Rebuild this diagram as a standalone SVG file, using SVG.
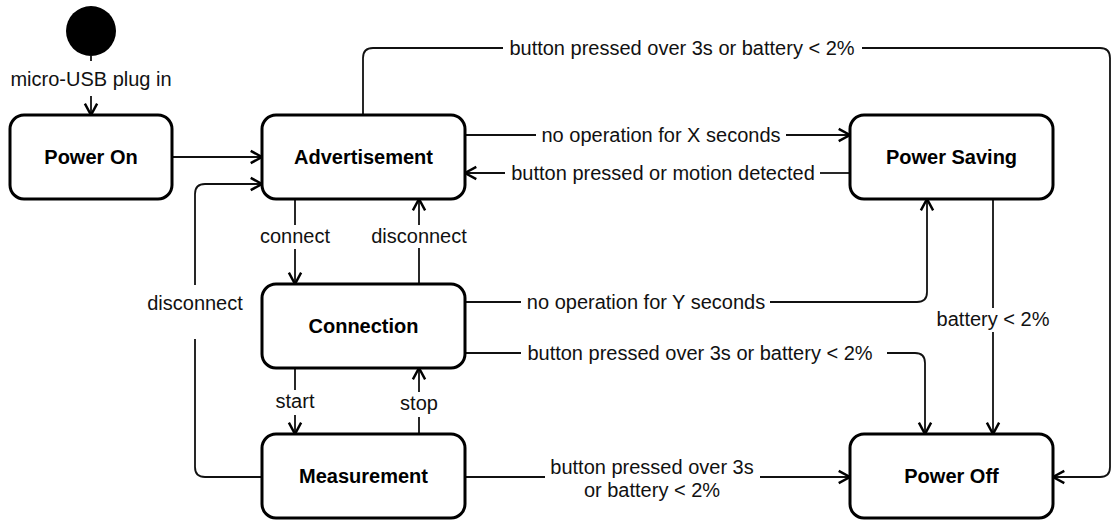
<svg xmlns="http://www.w3.org/2000/svg" width="1113" height="521" viewBox="0 0 1113 521">
  <style>
    .node { fill: #ffffff; stroke: #000000; stroke-width: 3; }
    .title { font-family: "Liberation Sans", Arial, sans-serif; font-size: 20px; font-weight: bold; fill: #000000; text-anchor: middle; }
    .label { font-family: "Liberation Sans", Arial, sans-serif; font-size: 20px; fill: #111111; text-anchor: middle; }
    .edge { fill: none; stroke: #111111; stroke-width: 1.8; }
    .arrow { marker-end: url(#open); }
  </style>
  <defs>
    <marker id="open" markerUnits="userSpaceOnUse" markerWidth="16" markerHeight="16" viewBox="-2 -2 16 17" refX="12" refY="6.5" orient="auto">
      <path d="M0,0 L12,6.5 L0,13" fill="none" stroke="#000000" stroke-width="2.6"/>
    </marker>
  </defs>

  <!-- transitions -->
  <g id="connectors">
    <path class="edge" d="M91,56 V61"/>
    <path class="edge arrow" d="M91,96 V115"/>
    <path class="edge arrow" d="M172,157 H262"/>
    <path class="edge" d="M363,115 V58 Q363,48 373,48 H503"/>
    <path class="edge arrow" d="M862,48 H1100 Q1110,48 1110,58 V467 Q1110,477 1100,477 H1053"/>
    <path class="edge" d="M465,135 H536"/>
    <path class="edge arrow" d="M786,135 H850"/>
    <path class="edge" d="M850,173 H820"/>
    <path class="edge arrow" d="M505,173 H465"/>
    <path class="edge" d="M295,199 V225"/>
    <path class="edge arrow" d="M295,249 V284"/>
    <path class="edge" d="M419,284 V248"/>
    <path class="edge arrow" d="M419,225 V199"/>
    <path class="edge" d="M262,477 H205 Q195,477 195,467 V339"/>
    <path class="edge arrow" d="M195,285 V194 Q195,184 205,184 H262"/>
    <path class="edge" d="M465,302 H521"/>
    <path class="edge arrow" d="M770,302 H917 Q927,302 927,292 V199"/>
    <path class="edge" d="M465,353 H521"/>
    <path class="edge arrow" d="M887,353 H915 Q925,353 925,363 V434"/>
    <path class="edge" d="M993,199 V308"/>
    <path class="edge arrow" d="M993,332 V434"/>
    <path class="edge" d="M295,368 V390"/>
    <path class="edge arrow" d="M295,415 V434"/>
    <path class="edge" d="M419,434 V417"/>
    <path class="edge arrow" d="M419,392 V368"/>
    <path class="edge" d="M465,477 H545"/>
    <path class="edge arrow" d="M760,477 H850"/>
  </g>

  <!-- transition labels -->
  <g id="labels">
    <text class="label" x="91" y="86">micro-USB plug in</text>
    <text class="label" x="682" y="55">button pressed over 3s or battery &lt; 2%</text>
    <text class="label" x="661" y="142">no operation for X seconds</text>
    <text class="label" x="663" y="180">button pressed or motion detected</text>
    <text class="label" x="295" y="243">connect</text>
    <text class="label" x="419" y="243">disconnect</text>
    <text class="label" x="195" y="310">disconnect</text>
    <text class="label" x="646" y="309">no operation for Y seconds</text>
    <text class="label" x="700" y="360">button pressed over 3s or battery &lt; 2%</text>
    <text class="label" x="993" y="326">battery &lt; 2%</text>
    <text class="label" x="295" y="408">start</text>
    <text class="label" x="419" y="410">stop</text>
    <text class="label" x="652" y="474">button pressed over 3s</text>
    <text class="label" x="652" y="497">or battery &lt; 2%</text>
  </g>

  <!-- states -->
  <g id="initial">
    <circle cx="91" cy="31" r="25" fill="#000000"/>
  </g>
  <g id="power-on">
    <rect class="node" x="10" y="115" width="162" height="84" rx="14"/>
    <text class="title" x="91" y="164">Power On</text>
  </g>
  <g id="advertisement">
    <rect class="node" x="262" y="115" width="203" height="84" rx="14"/>
    <text class="title" x="363.5" y="164">Advertisement</text>
  </g>
  <g id="power-saving">
    <rect class="node" x="850" y="115" width="203" height="84" rx="14"/>
    <text class="title" x="951.5" y="164">Power Saving</text>
  </g>
  <g id="connection">
    <rect class="node" x="262" y="284" width="203" height="84" rx="14"/>
    <text class="title" x="363.5" y="333">Connection</text>
  </g>
  <g id="measurement">
    <rect class="node" x="262" y="434" width="203" height="84" rx="14"/>
    <text class="title" x="363.5" y="483">Measurement</text>
  </g>
  <g id="power-off">
    <rect class="node" x="850" y="434" width="203" height="84" rx="14"/>
    <text class="title" x="951.5" y="483">Power Off</text>
  </g>
</svg>
